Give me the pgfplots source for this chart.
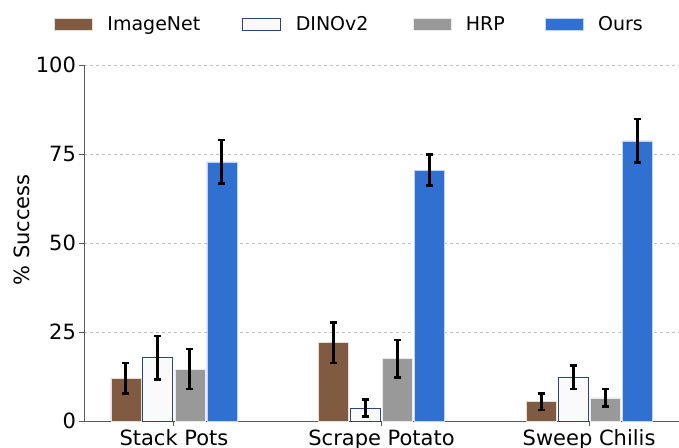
\documentclass[border=0pt]{standalone}
\usepackage{fontspec}
\setmainfont{DejaVu Sans}
\usepackage{pgfplots}
\pgfplotsset{compat=1.18}

\definecolor{cImg}{RGB}{128,91,66}
\definecolor{cDino}{RGB}{250,250,250}
\definecolor{cDinoEdge}{RGB}{40,70,125}
\definecolor{cHrp}{RGB}{153,153,153}
\definecolor{cOurs}{RGB}{47,112,208}

\pgfplotstableread{
x  img  imgE  dino dinoE hrp  hrpE  ours oursE
0  12.0 4.3   17.8 6.1   14.6 5.6   72.8 6.1
1  22.0 5.7   3.6  2.4   17.5 5.3   70.5 4.4
2  5.4  2.3   12.3 3.3   6.5  2.5   78.7 6.1
}\data

\begin{document}
\begin{tikzpicture}
\useasboundingbox (-84pt,-26pt) rectangle (595pt,421pt);
\clip (-84pt,-26pt) rectangle (595pt,421pt);
\begin{axis}[
  at={(0pt,0pt)}, anchor=south west,
  scale only axis,
  width=595pt, height=356pt,
  xmin=-0.433, xmax=2.433,
  ymin=0, ymax=100,
  ybar, bar width=30pt,
  xtick=data,
  xticklabels={Stack Pots, Scrape Potato, Sweep Chilis},
  ytick={0,25,50,75,100},
  /pgf/number format/assume math mode=true,
  ticklabel style={font=\fontsize{21}{24}\selectfont},
  xticklabel style={inner sep=0pt, yshift=-4pt},
  ylabel={\% Success},
  every axis y label/.style={at={(axis description cs:0,0.5)}, xshift=-62pt, yshift=13pt,
    rotate=90, anchor=center, font=\fontsize{21}{24}\selectfont},
  axis x line*=bottom, axis y line*=left,
  axis line style={black!65, line width=0.9pt},
  tick style={black!65, line width=0.9pt},
  major tick length=4.5pt,
  tick align=outside,
  ymajorgrids, grid style={dashed, black!25, line width=0.7pt},
  legend cell align=left,
  legend style={draw=none, fill=none, at={(axis description cs:-0.0555,1.115)}, anchor=west,
    legend columns=-1, font=\fontsize{19}{22}\selectfont,
    nodes={inner sep=0pt},
    /tikz/every odd column/.append style={column sep=0pt},
    /tikz/every even column/.append style={column sep=0pt}},
  legend image code/.code={\draw[#1] (0pt,-6pt) rectangle (38pt,6pt); \path[draw=none, fill=none] (0pt,0pt) -- (53pt,0pt);},
  error bars/y dir=both, error bars/y explicit,
  error bars/error bar style={black, line width=3pt},
  error bars/error mark options={black, rotate=90, mark size=3.6pt, line width=2.6pt},
]
\addplot[fill=cImg, draw=white!80!cImg, line width=0.6pt, bar shift=-48pt] table[x=x, y=img, y error=imgE]{\data};
\addplot[fill=cDino, draw=cDinoEdge, line width=0.9pt, bar shift=-16pt] table[x=x, y=dino, y error=dinoE]{\data};
\addplot[fill=cHrp, draw=white!80!cHrp, line width=0.6pt, bar shift=16pt] table[x=x, y=hrp, y error=hrpE]{\data};
\addplot[fill=cOurs, draw=white!70!cOurs, line width=0.6pt, bar shift=48pt] table[x=x, y=ours, y error=oursE]{\data};
\legend{ImageNet\hspace*{42pt}, DINOv2\hspace*{44pt}, HRP\hspace*{40pt}, Ours}
\end{axis}
\end{tikzpicture}
\end{document}
